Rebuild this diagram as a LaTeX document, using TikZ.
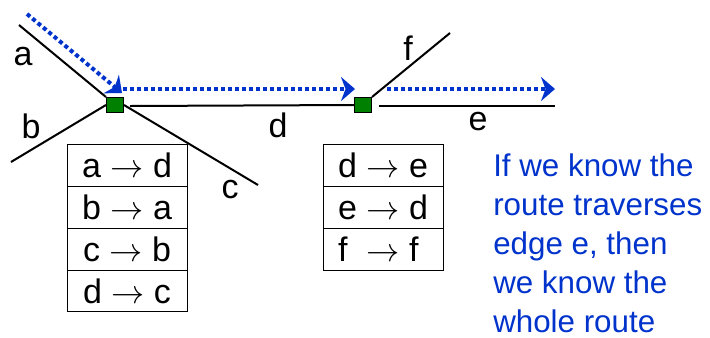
\documentclass[tikz,border=0pt]{standalone}
\usepackage{fontspec}
\setmainfont{Liberation Sans}
\usetikzlibrary{positioning,arrows.meta}
\definecolor{routeblue}{RGB}{0,51,204}
\definecolor{jgreen}{RGB}{0,128,0}
\tikzset{
  edge/.style={line width=1.5pt},
  junction/.style={draw=black, fill=jgreen, line width=0.75pt, minimum width=12.75pt, minimum height=11.25pt, inner sep=0pt},
  route/.style={routeblue, line width=3pt, dash pattern=on 3pt off 2.25pt, -{Stealth[length=10.5pt,width=18pt]}},
  lbl/.style={font=\fontsize{25.5}{30}\selectfont, inner sep=0pt},
  cell/.style={draw, line width=0.75pt, outer sep=0pt, minimum width=90pt, minimum height=31.3pt, inner sep=0pt, font=\fontsize{25.5}{30}\selectfont},
}
\begin{document}
\begin{tikzpicture}[x=0.75pt,y=0.75pt,yscale=-1,xscale=1]
\useasboundingbox (0,0) rectangle (710,337);
%Junctions
\node[junction] (j1) at (115,105) {};
\node[junction] (j2) at (363,105) {};
%Free ends of the edges
\coordinate (aend) at (19,25);
\coordinate (bend) at (11,162);
\coordinate (cend) at (258,185);
\coordinate (dstart) at (130,106);
\coordinate (estart) at (379,106);
\coordinate (eend) at (555,106);
\coordinate (fend) at (450,33);
%Straight Lines: edges
\draw[edge] (aend) -- (j1.north west);
\draw[edge] (bend) -- (j1.west);
\draw[edge] (j1.east) -- (cend);
\draw[edge] (dstart) -- (j2.west);
\draw[edge] (estart) -- (eend);
\draw[edge] (j2.north east) -- (fend);
%Route arrows
\coordinate (r1s) at (27,14);
\coordinate (r1e) at (122,93);
\coordinate (r2s) at (123,89);
\coordinate (r2e) at (355,89);
\coordinate (r3s) at (387,89);
\coordinate (r3e) at (555,89);
\draw[route] (r1s) -- (r1e);
\draw[route] (r2s) -- (r2e);
\draw[route] (r3s) -- (r3e);
% Text Node
\node[lbl] (la) at (23,57) {a};
\node[lbl] (lb) at (31,126) {b};
\node[lbl] (lc) at (230,190) {c};
\node[lbl] (ld) at (278,125) {d};
\node[lbl] (le) at (478,122) {e};
\node[lbl] (lf) at (408,48) {f};
%Turn table at first junction
\node[cell] (ta1) at (127,165.8) {a $\rightarrow$ d};
\node[cell, below=0pt of ta1] (ta2) {b $\rightarrow$ a};
\node[cell, below=0pt of ta2] (ta3) {c $\rightarrow$ b};
\node[cell, below=0pt of ta3] (ta4) {d $\rightarrow$ c};
%Turn table at second junction
\node[cell] (tb1) at (383,165.8) {d $\rightarrow$ e};
\node[cell, below=0pt of tb1] (tb2) {e $\rightarrow$ d};
\node[cell, below=0pt of tb2] (tb3) {\makebox[0.556em][l]{f} $\rightarrow$ \makebox[0.556em][l]{f}};
% Text Node
\node[anchor=base west, inner sep=0pt, align=left, text=routeblue, font=\fontsize{23.5}{29.1}\selectfont] (note) at (493,332)
  {If we know the\\route traverses\\edge e, then\\we know the\\whole route};
\end{tikzpicture}
\end{document}
